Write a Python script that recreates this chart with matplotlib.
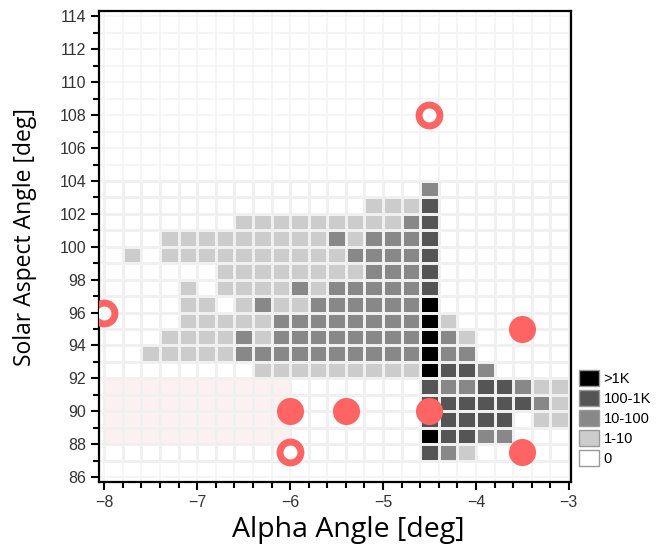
import matplotlib
matplotlib.use('agg')
import matplotlib.pyplot as plt
import numpy as np
from matplotlib.patches import Patch, Rectangle

# bins: 0.2 deg in alpha, 1 deg in solar aspect
alpha_edges = np.round(np.arange(-8.0, -2.99, 0.2), 2)
sa_edges = np.arange(87, 105)

# count class per cell, rows from SA 87 (bottom) up to 103; 0:none 1:1-10 2:10-100 3:100-1K 4:>1K
rows = [
    "0000000000000000032100000",  # 87
    "0000000000000000043322000",  # 88
    "0000000000000000033333011",  # 89
    "0000000000000000033333321",  # 90
    "0000000000000000032233211",  # 91
    "0000000011111111143320000",  # 92
    "0011111222222222242200000",  # 93
    "0001111212222222242100000",  # 94
    "0000111112222222241000000",  # 95
    "0000110121122222240000000",  # 96
    "0000101111212222230000000",  # 97
    "0000001111111122230000000",  # 98
    "0101111111111222230000000",  # 99
    "0001111111112122230000000",  # 100
    "0000000111111111230000000",  # 101
    "0000000000000011130000000",  # 102
    "0000000000000000020000000",  # 103
]
classes = ["0", "1-10", "10-100", "100-1K", ">1K"]
class_colors = ["#ffffff", "#cccccc", "#888888", "#555555", "#000000"]

# observation points
filled_x = [-6.0, -5.4, -4.5, -3.5, -3.5]
filled_y = [90, 90, 90, 95, 87.5]
ring_x = [-8.0, -4.5, -6.0]
ring_y = [96, 108, 87.5]

red = "#ff6464"

grid = np.array([[int(c) for c in r] for r in rows])
cmap = matplotlib.colors.ListedColormap(class_colors)
masked = np.ma.masked_equal(grid, 0)

fig = plt.figure(figsize=(6.56, 5.51), dpi=100)
ax = fig.add_axes([0.1505, 0.1252, 0.7195, 0.8554])

ax.add_patch(Rectangle((-8.0, 88), 2.0, 4, facecolor="#fdf0f0", edgecolor="none", zorder=0))

ax.pcolormesh(alpha_edges, np.arange(87, 87 + len(rows) + 1), masked, cmap=cmap,
              vmin=-0.5, vmax=4.5, edgecolors="#f0f0f0", linewidth=0.9, zorder=2)

ax.plot(filled_x, filled_y, "o", color=red, ms=19.5, mec="none", zorder=5)
ax.plot(ring_x, ring_y, "o", mfc="white", mec=red, ms=15, mew=5, zorder=5)

ax.set_xlim(-8.06, -2.98)
ax.set_ylim(85.7, 114.35)
ax.set_xticks(np.arange(-8, -2, 1))
ax.set_xticks(np.round(np.arange(-8, -2.9, 0.2), 2), minor=True)
ax.set_yticks(np.arange(86, 115, 2))
ax.set_yticks(np.arange(87, 114, 2), minor=True)
ax.grid(which="both", color="#f2f2f2", linewidth=1.1, zorder=1)
ax.set_axisbelow(True)

for s in ax.spines.values():
    s.set_linewidth(1.6)
    s.set_color("black")
ax.tick_params(which="major", length=6, width=1.5, labelsize=11.5,
               labelcolor="#333333", pad=3)
ax.tick_params(which="minor", length=4, width=1.5)
for lab in ax.get_xticklabels() + ax.get_yticklabels():
    lab.set_family("Liberation Sans")

ax.set_xlabel("Alpha Angle [deg]", fontsize=20.5, family="Open Sans")
ax.set_ylabel("Solar Aspect Angle [deg]", fontsize=16.5, family="Open Sans")
ax.xaxis.set_label_coords(0.528, -0.102)
ax.yaxis.set_label_coords(-0.156, 0.52)
ax.xaxis.label.set_va("center")
ax.yaxis.label.set_va("center")

handles = [Patch(facecolor=class_colors[i], edgecolor="#999999", label=classes[i])
           for i in range(4, -1, -1)]
fig.legend(handles=handles, loc="upper left", bbox_to_anchor=(0.872, 0.342),
           frameon=False, handlelength=1.35, handleheight=1.35,
           labelspacing=0.25, handletextpad=0.3, borderpad=0,
           prop={"family": "Liberation Sans", "size": 10.5})

fig.savefig("out.png", dpi=100)
